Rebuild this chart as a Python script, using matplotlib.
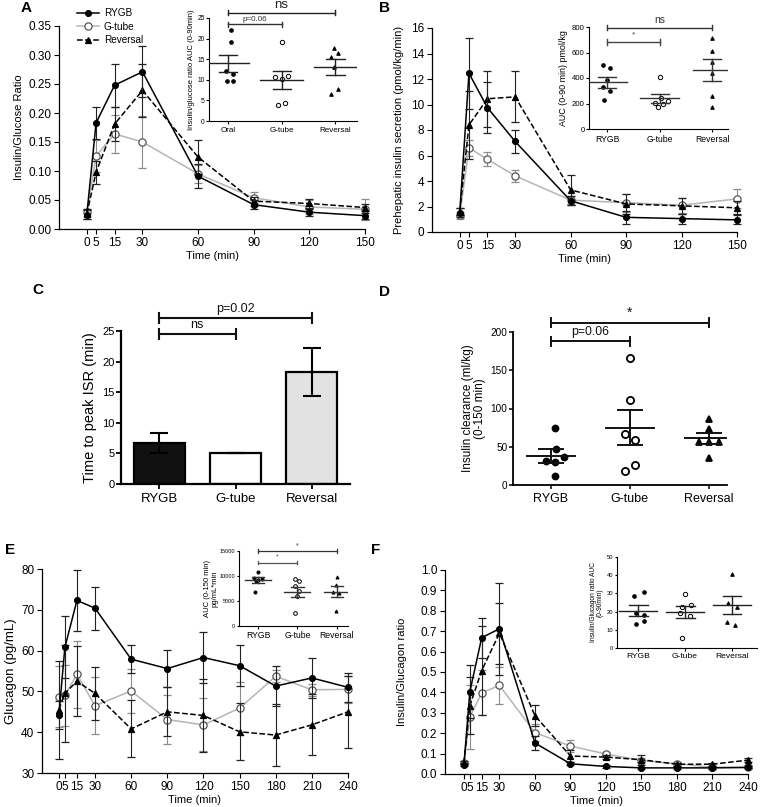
import numpy as np
import matplotlib
matplotlib.use('Agg')
import matplotlib.pyplot as plt
from matplotlib.lines import Line2D

plt.rcParams['font.family'] = ['Liberation Sans', 'DejaVu Sans']
plt.rcParams['axes.linewidth'] = 0.9
plt.rcParams['xtick.major.width'] = 0.8
plt.rcParams['ytick.major.width'] = 0.8

# ---------------- DATA ----------------
groups = ['RYGB', 'G-tube', 'Reversal']
groups_a_inset = ['Oral', 'G-tube', 'Reversal']

t150 = [0, 5, 15, 30, 60, 90, 120, 150]
t240 = [0, 5, 15, 30, 60, 90, 120, 150, 180, 210, 240]

# A: Insulin/Glucose ratio
a_rygb = [0.025, 0.183, 0.248, 0.271, 0.091, 0.042, 0.029, 0.023]
a_rygb_err = [0.007, 0.028, 0.037, 0.044, 0.021, 0.008, 0.006, 0.005]
a_gtube = [0.029, 0.126, 0.164, 0.150, 0.095, 0.054, 0.038, 0.034]
a_gtube_err = [0.006, 0.028, 0.033, 0.044, 0.015, 0.010, 0.012, 0.018]
a_rev = [0.026, 0.098, 0.181, 0.239, 0.124, 0.048, 0.044, 0.037]
a_rev_err = [0.008, 0.020, 0.030, 0.046, 0.030, 0.008, 0.008, 0.006]

# A inset: AUC (0-90 min)
ai_oral = [22.0, 19.2, 12.1, 11.5, 9.6, 9.7]
ai_gtube = [19.2, 10.8, 10.1, 11.0, 4.0, 4.3]
ai_rev = [17.8, 16.6, 15.6, 13.0, 7.8, 6.5]
ai_mean = [14.0, 9.9, 13.0]
ai_sem = [2.1, 2.25, 1.95]

# B: prehepatic insulin secretion
b_rygb = [1.5, 12.45, 9.75, 7.1, 2.45, 1.15, 1.05, 0.95]
b_rygb_err = [0.35, 2.8, 2.0, 0.9, 0.35, 0.5, 0.4, 0.35]
b_gtube = [1.3, 6.6, 5.7, 4.4, 2.5, 2.3, 2.1, 2.6]
b_gtube_err = [0.3, 0.6, 0.55, 0.45, 0.3, 0.7, 0.6, 0.75]
b_rev = [1.6, 8.4, 10.45, 10.6, 3.3, 2.2, 2.05, 1.9]
b_rev_err = [0.3, 2.65, 2.2, 2.0, 1.15, 0.8, 0.6, 0.5]

# B inset: AUC (0-90 min) pmol/kg
bi_rygb = [500, 482, 382, 327, 300, 226]
bi_gtube = [404, 244, 202, 172, 199, 220]
bi_rev = [717, 615, 522, 437, 260, 174]
bi_mean = [367, 240, 460]
bi_sem = [43, 34, 86]

# C: time to peak ISR
c_mean = [6.7, 5.0, 18.3]
c_sem = [1.6, 0.0, 4.0]

# D: insulin clearance (0-150 min)
d_rygb = [74, 47, 31, 36, 30, 12]
d_gtube = [166, 111, 67, 59, 26, 18]
d_rev = [86, 73, 56, 56, 56, 35]
d_mean = [38, 75, 61]
d_sem = [9, 23, 7.5]

# E: glucagon
e_rygb = [44.2, 60.8, 72.3, 70.4, 57.9, 55.6, 58.3, 56.3, 51.3, 53.3, 51.0]
e_rygb_err = [3.5, 7.6, 7.4, 5.3, 3.5, 4.5, 6.3, 5.0, 5.0, 4.9, 3.5]
e_gtube = [48.7, 49.0, 54.2, 46.5, 50.1, 43.1, 41.8, 45.9, 53.7, 50.4, 50.5]
e_gtube_err = [7.5, 7.5, 8.2, 7.0, 5.5, 6.0, 6.5, 6.5, 1.5, 1.5, 3.3]
e_rev = [45.5, 49.5, 52.5, 49.5, 40.8, 45.0, 44.1, 40.1, 39.3, 41.8, 45.0]
e_rev_err = [12.0, 11.8, 8.6, 6.5, 7.0, 6.0, 9.0, 7.0, 7.5, 7.5, 8.8]

# E inset: AUC (0-150 min) pg/mL*min
ei_rygb = [10800, 9600, 9500, 9200, 9000, 6900]
ei_gtube = [9400, 9000, 8100, 7000, 6100, 2600]
ei_rev = [9800, 8300, 6800, 6600, 3100]
ei_mean = [9200, 6900, 6900]
ei_sem = [550, 1000, 1130]

# F: insulin/glucagon ratio
f_rygb = [0.045, 0.404, 0.668, 0.712, 0.152, 0.050, 0.037, 0.030, 0.030, 0.030, 0.032]
f_rygb_err = [0.008, 0.130, 0.098, 0.225, 0.035, 0.008, 0.006, 0.005, 0.005, 0.005, 0.005]
f_gtube = [0.056, 0.280, 0.398, 0.434, 0.203, 0.137, 0.098, 0.066, 0.050, 0.033, 0.034]
f_gtube_err = [0.010, 0.155, 0.110, 0.090, 0.040, 0.030, 0.012, 0.012, 0.010, 0.008, 0.008]
f_rev = [0.056, 0.335, 0.507, 0.690, 0.286, 0.088, 0.083, 0.070, 0.048, 0.048, 0.068]
f_rev_err = [0.008, 0.140, 0.220, 0.150, 0.050, 0.030, 0.010, 0.025, 0.008, 0.008, 0.008]

# F inset: insulin/glucagon ratio AUC (0-90 min)
fi_rygb = [30.5, 28.8, 19.5, 18.0, 14.6, 13.0]
fi_gtube = [29.7, 23.5, 22.6, 19.5, 17.5, 5.5]
fi_rev = [40.8, 24.5, 22.5, 14.5, 12.8]
fi_mean = [20.5, 19.6, 23.6]
fi_sem = [3.1, 3.3, 4.9]

# ---------------- STYLE ----------------
W, H = 761, 807
fig = plt.figure(figsize=(W / 100, H / 100), dpi=100)


def axrect(l, t, r, b):
    return fig.add_axes([l / W, 1 - b / H, (r - l) / W, (b - t) / H])


def clean(ax, lw=0.9):
    for s in ['top', 'right']:
        ax.spines[s].set_visible(False)
    for s in ['left', 'bottom']:
        ax.spines[s].set_linewidth(lw)


STY = {
    'RYGB': dict(color='black', ls='-', marker='o', ms=4.2, mfc='black', mec='black', ecolor='#222222'),
    'G-tube': dict(color='#b5b5b5', ls='-', marker='o', ms=5.2, mfc='white', mec='#555555', ecolor='#8c8c8c'),
    'Reversal': dict(color='black', ls='--', marker='^', ms=4.2, mfc='black', mec='black', ecolor='#222222'),
}


def timecourse(ax, t, data, fs_tick=8.5, fs_lab=8):
    order = [('G-tube', 2), ('Reversal', 3), ('RYGB', 4)]
    for name, z in order:
        vals, errs = data[name]
        s = STY[name]
        ax.errorbar(t, vals, yerr=errs, color=s['color'], ls=s['ls'], lw=1.1,
                    marker=s['marker'], ms=s['ms'], mfc=s['mfc'], mec=s['mec'], mew=0.9,
                    ecolor=s['ecolor'], elinewidth=0.8, capsize=2.6, capthick=0.8,
                    zorder=z, clip_on=False)
    clean(ax)
    ax.tick_params(labelsize=fs_tick, length=3.5, pad=2)
    ax.set_xlabel('Time (min)', fontsize=fs_lab, labelpad=2)


def dotplot(ax, vals, means, sems, jit, msz=2.6, mean_hw=0.4, cap_hw=0.17, col='#222222', lw=1.0):
    styles = [dict(marker='o', mfc='black', mec='black'),
              dict(marker='o', mfc='white', mec='black'),
              dict(marker='^', mfc='black', mec='black')]
    for i, (v, m, s, j, st) in enumerate(zip(vals, means, sems, jit, styles)):
        ms = msz * (1.2 if st['mfc'] == 'white' else 1.0)
        ax.plot(np.array(j) + i, v, ls='none', marker=st['marker'], ms=ms,
                mfc=st['mfc'], mec=st['mec'], mew=0.7 if msz < 4 else 1.3, zorder=3, clip_on=False)
        ax.plot([i - mean_hw, i + mean_hw], [m, m], color=col, lw=lw, zorder=4)
        ax.plot([i, i], [m - s, m + s], color=col, lw=lw, zorder=4)
        for yy in (m - s, m + s):
            ax.plot([i - cap_hw, i + cap_hw], [yy, yy], color=col, lw=lw, zorder=4)
    clean(ax, 0.8)


def bracket(ax, x1, x2, y, text, h, fs, color='#222222', lw=0.9, tpad=0.0):
    ax.plot([x1, x2], [y, y], color=color, lw=lw, clip_on=False, zorder=5)
    for x in (x1, x2):
        ax.plot([x, x], [y - h, y + h], color=color, lw=lw, clip_on=False, zorder=5)
    ax.text((x1 + x2) / 2, y + h * 0.6 + tpad, text, ha='center', va='bottom', fontsize=fs,
            color=color, clip_on=False)


# ---------------- PANEL A ----------------
axA = axrect(59, 26, 365, 229)
timecourse(axA, t150, {'RYGB': (a_rygb, a_rygb_err), 'G-tube': (a_gtube, a_gtube_err),
                       'Reversal': (a_rev, a_rev_err)})
axA.set_xlim(-15, 150)
axA.set_ylim(0, 0.35)
axA.set_xticks(t150)
axA.set_yticks(np.arange(0, 0.351, 0.05))
axA.set_yticklabels(['%.2f' % v for v in np.arange(0, 0.351, 0.05)])
axA.set_ylabel('Insulin/Glucose Ratio', fontsize=8, labelpad=3)

leg_handles = [Line2D([], [], color=STY[n]['color'], ls=STY[n]['ls'], lw=1.1, marker=STY[n]['marker'],
                      ms=STY[n]['ms'], mfc=STY[n]['mfc'], mec=STY[n]['mec'], mew=0.9)
               for n in groups]
fig.legend(leg_handles, groups, loc='upper left', bbox_to_anchor=(70 / W, 1 - 1 / H), frameon=False,
           fontsize=7.2, handlelength=2.2, handletextpad=0.5, labelspacing=0.35, borderpad=0.2)

axAi = axrect(209, 18, 357, 121)
dotplot(axAi, [ai_oral, ai_gtube, ai_rev], ai_mean, ai_sem,
        [[0.05, 0.05, -0.03, 0.1, -0.01, 0.1], [0.0, -0.12, 0.0, 0.12, -0.07, 0.06],
         [-0.03, 0.04, -0.09, -0.03, 0.04, -0.09]], mean_hw=0.4, cap_hw=0.17)
axAi.set_xlim(-0.35, 2.4)
axAi.set_ylim(0, 25)
axAi.set_yticks([0, 5, 10, 15, 20, 25])
axAi.set_xticks([0, 1, 2])
axAi.set_xticklabels(groups_a_inset)
axAi.tick_params(axis='y', labelsize=4.8, length=2, pad=1)
axAi.tick_params(axis='x', labelsize=5.8, length=2, pad=2)
axAi.set_ylabel('Insulin/glucose ratio AUC (0-90min)', fontsize=5.5, labelpad=2)
bracket(axAi, 0, 1, 23.5, 'p=0.06', 0.6, 5.8, color='#333333', lw=1.0)
bracket(axAi, 0, 2, 26.3, 'ns', 0.6, 9.5, color='#222222', lw=1.0)

# ---------------- PANEL B ----------------
axB = axrect(432, 28, 737, 232)
timecourse(axB, t150, {'RYGB': (b_rygb, b_rygb_err), 'G-tube': (b_gtube, b_gtube_err),
                       'Reversal': (b_rev, b_rev_err)})
axB.set_xlim(-15, 150)
axB.set_ylim(0, 16)
axB.set_xticks(t150)
axB.set_yticks(range(0, 17, 2))
axB.set_ylabel('Prehepatic insulin secretion (pmol/kg/min)', fontsize=8, labelpad=5)

axBi = axrect(589, 27, 728, 129)
dotplot(axBi, [bi_rygb, bi_gtube, bi_rev], bi_mean, bi_sem,
        [[-0.08, 0.05, 0.0, -0.08, 0.05, -0.06], [0.0, 0.02, -0.1, -0.04, 0.06, 0.15],
         [0.0, 0.0, 0.0, 0.0, 0.0, 0.0]], mean_hw=0.37, cap_hw=0.17, col='#333333')
axBi.set_xlim(-0.35, 2.3)
axBi.set_ylim(0, 800)
axBi.set_yticks(range(0, 801, 200))
axBi.set_xticks([0, 1, 2])
axBi.set_xticklabels(groups)
axBi.tick_params(axis='y', labelsize=5.6, length=2, pad=1)
axBi.tick_params(axis='x', labelsize=6.2, length=2, pad=2)
axBi.set_ylabel('AUC (0-90 min) pmol/kg', fontsize=6.4, labelpad=3)
bracket(axBi, 0, 1, 680, '*', 22, 6, color='#444444', lw=1.0, tpad=15)
bracket(axBi, 0, 2, 795, 'ns', 22, 7.5, color='#333333', lw=1.0, tpad=10)

# ---------------- PANEL C ----------------
axC = axrect(121, 331, 350, 484)
xC = np.arange(3)
axC.bar(xC, c_mean, width=0.67, color=['#111111', 'white', '#e2e2e2'], edgecolor='black',
        linewidth=1.6, zorder=2)
axC.errorbar(xC, c_mean, yerr=c_sem, fmt='none', ecolor='black', elinewidth=1.5, capsize=6.5,
             capthick=1.5, zorder=3)
axC.set_xlim(-0.5, 2.5)
axC.set_ylim(0, 25)
axC.set_yticks([0, 5, 10, 15, 20, 25])
axC.set_xticks(xC)
axC.set_xticklabels(groups)
clean(axC, 1.6)
axC.tick_params(axis='y', labelsize=8, length=3.5, width=1.3, pad=1)
axC.tick_params(axis='x', labelsize=9.5, length=3.5, width=1.3, pad=3)
axC.set_ylabel('Time to peak ISR (min)', fontsize=10.5, labelpad=4)
bracket(axC, 0, 1, 24.5, 'ns', 0.8, 9, color='#111111', lw=1.5)
bracket(axC, 0, 2, 27.1, 'p=0.02', 0.8, 9, color='#111111', lw=1.5)

# ---------------- PANEL D ----------------
axD = axrect(513, 332, 727, 485)
dotplot(axD, [d_rygb, d_gtube, d_rev], d_mean, d_sem,
        [[0.05, 0.06, -0.06, 0.16, 0.05, 0.05], [0.0, 0.0, -0.06, 0.06, 0.06, -0.06],
         [0.0, 0.0, -0.13, 0.0, 0.13, 0.0]],
        msz=4.3, mean_hw=0.3, cap_hw=0.15, col='#111111', lw=1.4)
axD.set_xlim(-0.48, 2.23)
axD.set_ylim(0, 200)
axD.set_yticks(range(0, 201, 50))
axD.set_xticks([0, 1, 2])
axD.set_xticklabels(groups)
clean(axD, 1.3)
axD.tick_params(axis='y', labelsize=7.2, length=3, width=1.1, pad=1)
axD.tick_params(axis='x', labelsize=9, length=3, width=1.1, pad=3)
axD.set_ylabel('Insulin clearance (ml/kg)\n(0-150 min)', fontsize=8.5, labelpad=3, linespacing=1.0)
bracket(axD, 0, 1, 188, 'p=0.06', 6, 8.8, color='#111111', lw=1.4)
bracket(axD, 0, 2, 212, '*', 6, 10, color='#111111', lw=1.4)

# ---------------- PANEL E ----------------
axE = axrect(42, 569, 348, 773)
timecourse(axE, t240, {'RYGB': (e_rygb, e_rygb_err), 'G-tube': (e_gtube, e_gtube_err),
                       'Reversal': (e_rev, e_rev_err)})
axE.set_xlim(-14, 240)
axE.set_ylim(30, 80)
axE.set_xticks(t240)
axE.set_yticks(range(30, 81, 10))
axE.set_ylabel('Glucagon (pg/mL)', fontsize=9.5, labelpad=3)

axEi = axrect(239, 551, 348, 626)
dotplot(axEi, [ei_rygb, ei_gtube, ei_rev], ei_mean, ei_sem,
        [[0.0, -0.1, 0.1, 0.0, -0.05, -0.08], [-0.05, 0.05, -0.05, 0.05, 0.0, -0.05],
         [0.0, -0.03, -0.1, 0.05, -0.03]],
        msz=2.2, mean_hw=0.33, cap_hw=0.16, col='#333333')
axEi.set_xlim(-0.48, 2.28)
axEi.set_ylim(0, 15000)
axEi.set_yticks([0, 5000, 10000, 15000])
axEi.set_xticks([0, 1, 2])
axEi.set_xticklabels(groups)
axEi.tick_params(axis='y', labelsize=4.0, length=1.8, pad=1)
axEi.tick_params(axis='x', labelsize=6.2, length=1.8, pad=2)
axEi.set_ylabel('AUC (0-150 min)\npg/mL*min', fontsize=5.5, labelpad=1, linespacing=1.0)
bracket(axEi, 0, 1, 12700, '*', 350, 5, color='#555555', lw=0.9, tpad=150)
bracket(axEi, 0, 2, 15000, '*', 350, 5, color='#333333', lw=0.9, tpad=150)

# ---------------- PANEL F ----------------
axF = axrect(445, 570, 748, 774)
timecourse(axF, t240, {'RYGB': (f_rygb, f_rygb_err), 'G-tube': (f_gtube, f_gtube_err),
                       'Reversal': (f_rev, f_rev_err)})
axF.set_xlim(-16, 240)
axF.set_ylim(0, 1.0)
axF.set_xticks(t240)
axF.set_yticks(np.arange(0, 1.01, 0.1))
axF.set_yticklabels(['%.1f' % v for v in np.arange(0, 1.01, 0.1)])
axF.set_ylabel('Insulin/Glucagon ratio', fontsize=8, labelpad=10)

axFi = axrect(617, 557, 757, 648)
dotplot(axFi, [fi_rygb, fi_gtube, fi_rev], fi_mean, fi_sem,
        [[0.12, -0.08, -0.05, 0.12, 0.12, -0.05], [0.0, 0.12, -0.06, -0.1, 0.1, -0.06],
         [0.0, -0.08, 0.1, -0.1, 0.06]],
        msz=2.6, mean_hw=0.4, cap_hw=0.2, col='#222222')
axFi.set_xlim(-0.45, 2.53)
axFi.set_ylim(0, 50)
axFi.set_yticks(range(0, 51, 10))
axFi.set_xticks([0, 1, 2])
axFi.set_xticklabels(groups)
axFi.tick_params(axis='y', labelsize=4.2, length=1.8, pad=1)
axFi.tick_params(axis='x', labelsize=6.1, length=1.8, pad=2)
axFi.set_ylabel('Insulin/Glucagon ratio AUC\n(0-90min)', fontsize=4.8, labelpad=2, linespacing=1.0)

# ---------------- PANEL LETTERS ----------------
for lab, x, y in [('A', 21, 1), ('B', 379, 1), ('C', 32, 283), ('D', 379, 285), ('E', 5, 543), ('F', 371, 543)]:
    fig.text(x / W, 1 - y / H, lab, fontsize=11, fontweight='bold', va='top', ha='left')

fig.savefig('out.png', dpi=100)
